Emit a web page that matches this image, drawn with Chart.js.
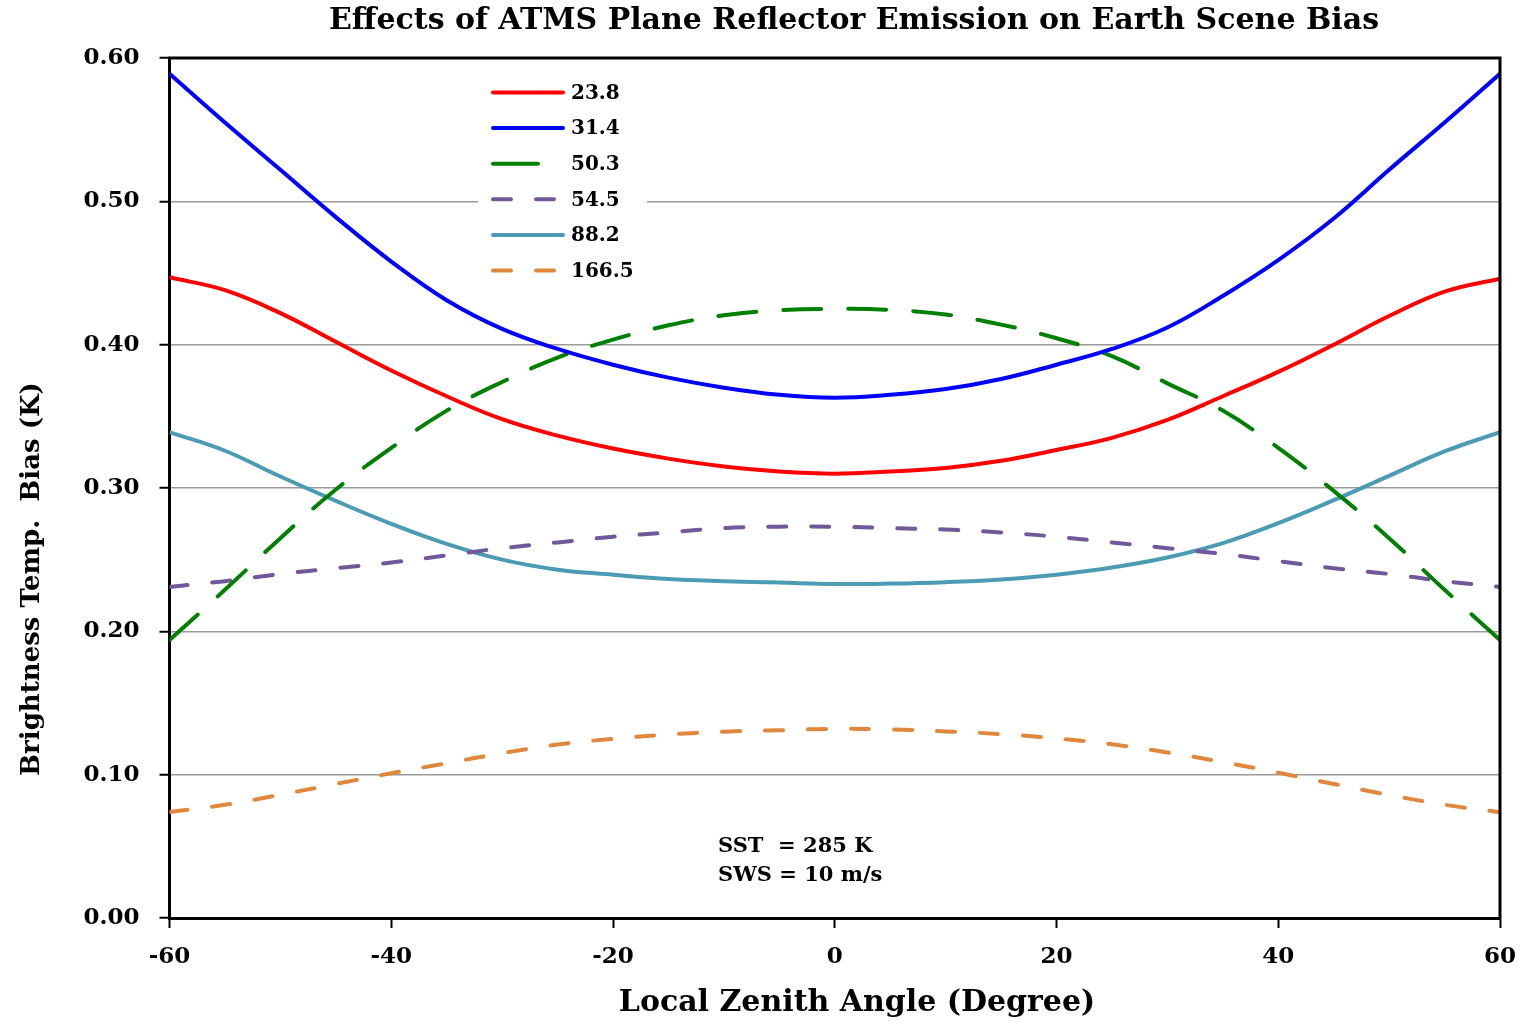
<!DOCTYPE html>
<html>
<head>
<meta charset="utf-8">
<script src="https://cdn.jsdelivr.net/npm/chart.js@4.4.1/dist/chart.umd.min.js"></script>
<style>
  html, body { margin: 0; padding: 0; background: #fff; }
  #wrap { width: 1526px; height: 1021px; }
</style>
</head>
<body>
<div id="wrap"><canvas id="c" width="1526" height="1021"></canvas></div>
<script>
// Local zenith angle (degrees)
const angles = [-60, -55, -50, -45, -40, -35, -30, -25, -20, -15, -10, -5, 0,
                5, 10, 15, 20, 25, 30, 35, 40, 45, 50, 55, 60];

// Brightness temperature bias (K) per channel frequency (GHz)
const bias238 = [0.447, 0.438, 0.422, 0.402, 0.382, 0.364, 0.348, 0.3365, 0.3275, 0.3205, 0.315, 0.3115, 0.310,
                 0.3115, 0.314, 0.319, 0.3265, 0.335, 0.3475, 0.364, 0.381, 0.400, 0.420, 0.437, 0.446];
const bias314 = [0.589, 0.555, 0.522, 0.489, 0.458, 0.431, 0.411, 0.397, 0.386, 0.377, 0.370, 0.365, 0.363,
                 0.365, 0.369, 0.376, 0.386, 0.397, 0.412, 0.434, 0.459, 0.488, 0.522, 0.555, 0.589];
const bias503 = [0.194, 0.229, 0.265, 0.299, 0.328, 0.354, 0.374, 0.391, 0.4035, 0.4135, 0.4205, 0.424, 0.425,
                 0.4243, 0.421, 0.414, 0.4045, 0.392, 0.373, 0.354, 0.328, 0.298, 0.265, 0.229, 0.194];
const bias545 = [0.231, 0.235, 0.240, 0.244, 0.248, 0.253, 0.258, 0.262, 0.266, 0.269, 0.272, 0.273, 0.273,
                 0.272, 0.271, 0.269, 0.266, 0.262, 0.258, 0.254, 0.249, 0.244, 0.240, 0.235, 0.231];
const bias882 = [0.339, 0.326, 0.308, 0.291, 0.275, 0.261, 0.250, 0.243, 0.2395, 0.2365, 0.235, 0.234, 0.233,
                 0.2333, 0.2343, 0.2362, 0.2395, 0.2445, 0.2515, 0.2615, 0.2755, 0.2915, 0.3085, 0.3255, 0.339];
const bias1665 = [0.074, 0.079, 0.086, 0.0935, 0.101, 0.108, 0.115, 0.121, 0.125, 0.128, 0.130, 0.131, 0.132,
                  0.1315, 0.1302, 0.1283, 0.1253, 0.1212, 0.1155, 0.1088, 0.1014, 0.0935, 0.0858, 0.079, 0.0738];

const channelLabels = ['23.8', '31.4', '50.3', '54.5', '88.2', '166.5'];

// Axis tick values
const xTickValues = [-60, -40, -20, 0, 20, 40, 60];
const yTickValues = [0.0, 0.1, 0.2, 0.3, 0.4, 0.5, 0.6];

const titleText = 'Effects of ATMS Plane Reflector Emission on Earth Scene Bias';
const xTitleText = 'Local Zenith Angle (Degree)';
const yTitleText = 'Brightness Temp.  Bias (K)';
const noteLines = ['SST  = 285 K', 'SWS = 10 m/s'];

const FONT = '"DejaVu Serif", "Liberation Serif", serif';

// line colour, dash pattern on the plot, dash pattern of the legend sample
const styles = [
  { color: '#ff0000', dash: [], keyDash: [] },
  { color: '#0000ff', dash: [], keyDash: [] },
  { color: '#008000', dash: [38, 27], keyDash: [45, 40] },
  { color: '#70589a', dash: [18, 25], keyDash: [18, 25] },
  { color: '#4b9bb4', dash: [], keyDash: [] },
  { color: '#e1873c', dash: [18, 25], keyDash: [18, 25] }
];
const seriesList = [bias238, bias314, bias503, bias545, bias882, bias1665];

const datasets = seriesList.map((vals, i) => ({
  label: channelLabels[i],
  data: angles.map((a, j) => ({ x: a, y: vals[j] })),
  borderColor: styles[i].color,
  backgroundColor: styles[i].color,
  borderWidth: 4,
  borderDash: styles[i].dash,
  borderCapStyle: styles[i].dash.length ? 'round' : 'butt',
  pointRadius: 0,
  tension: 0.4,
  fill: false
}));

// Frame, inset legend, titles and annotation
const decorPlugin = {
  id: 'decor',
  afterDraw(chart) {
    const ctx = chart.ctx;
    const a = chart.chartArea;
    ctx.save();

    // top and right frame lines
    ctx.strokeStyle = '#000';
    ctx.lineWidth = 3;
    ctx.beginPath();
    ctx.moveTo(a.left - 1.5, a.top);
    ctx.lineTo(a.right, a.top);
    ctx.lineTo(a.right, a.bottom + 1.5);
    ctx.stroke();

    // legend
    const lx = 478, ly = 73, lw = 169, lh = 216;
    ctx.fillStyle = '#fff';
    ctx.fillRect(lx, ly, lw, lh);
    ctx.font = 'bold 20px ' + FONT;
    ctx.textBaseline = 'middle';
    ctx.textAlign = 'left';
    chart.data.datasets.forEach((ds, i) => {
      const y = 92.5 + i * 35.6;
      ctx.strokeStyle = ds.borderColor;
      ctx.lineWidth = 4;
      ctx.lineCap = 'round';
      ctx.setLineDash(styles[i].keyDash);
      ctx.beginPath();
      ctx.moveTo(493, y);
      ctx.lineTo(563, y);
      ctx.stroke();
      ctx.setLineDash([]);
      ctx.fillStyle = '#000';
      ctx.fillText(ds.label, 571, y + 1);
    });

    // chart title
    ctx.fillStyle = '#000';
    ctx.textAlign = 'center';
    ctx.textBaseline = 'middle';
    ctx.font = 'bold 30px ' + FONT;
    ctx.fillText(titleText, 854, 21);

    // x axis title
    ctx.font = 'bold 30px ' + FONT;
    ctx.fillText(xTitleText, 857, 1003);

    // y axis title
    ctx.save();
    ctx.translate(32, 579);
    ctx.rotate(-Math.PI / 2);
    ctx.font = 'bold 26px ' + FONT;
    ctx.fillText(yTitleText, 0, 0);
    ctx.restore();

    // annotation
    ctx.textAlign = 'left';
    ctx.font = 'bold 21px ' + FONT;
    ctx.fillText(noteLines[0], 718, 847);
    ctx.fillText(noteLines[1], 718, 876);

    ctx.restore();
  }
};

new Chart(document.getElementById('c'), {
  type: 'line',
  data: { datasets },
  options: {
    responsive: false,
    animation: false,
    events: [],
    layout: { padding: { top: 58, right: 26, left: 0, bottom: 0 } },
    plugins: {
      legend: { display: false },
      title: { display: false },
      tooltip: { enabled: false }
    },
    scales: {
      x: {
        type: 'linear',
        min: -60,
        max: 60,
        afterBuildTicks: (s) => { s.ticks = xTickValues.map(v => ({ value: v })); },
        afterFit: (s) => { s.height = 103; s.paddingLeft = 0; s.paddingRight = 0; },
        ticks: {
          color: '#000',
          font: { family: FONT, size: 23, weight: 'bold' },
          padding: 15,
          maxRotation: 0,
          callback: (v) => String(v)
        },
        grid: {
          drawOnChartArea: false,
          drawTicks: true,
          tickLength: 10,
          tickColor: '#000',
          tickWidth: 2
        },
        border: { color: '#000', width: 3 }
      },
      y: {
        type: 'linear',
        min: 0,
        max: 0.6,
        afterBuildTicks: (s) => { s.ticks = yTickValues.map(v => ({ value: v })); },
        afterFit: (s) => { s.width = 169.5; s.paddingTop = 0; s.paddingBottom = 0; },
        ticks: {
          color: '#000',
          font: { family: FONT, size: 23, weight: 'bold' },
          padding: 20,
          callback: (v) => Number(v).toFixed(2)
        },
        grid: {
          color: '#9a9a9a',
          lineWidth: 1.5,
          drawTicks: true,
          tickLength: 10,
          tickColor: '#000',
          tickWidth: 2
        },
        border: { color: '#000', width: 3 }
      }
    }
  },
  plugins: [decorPlugin]
});
</script>
</body>
</html>
